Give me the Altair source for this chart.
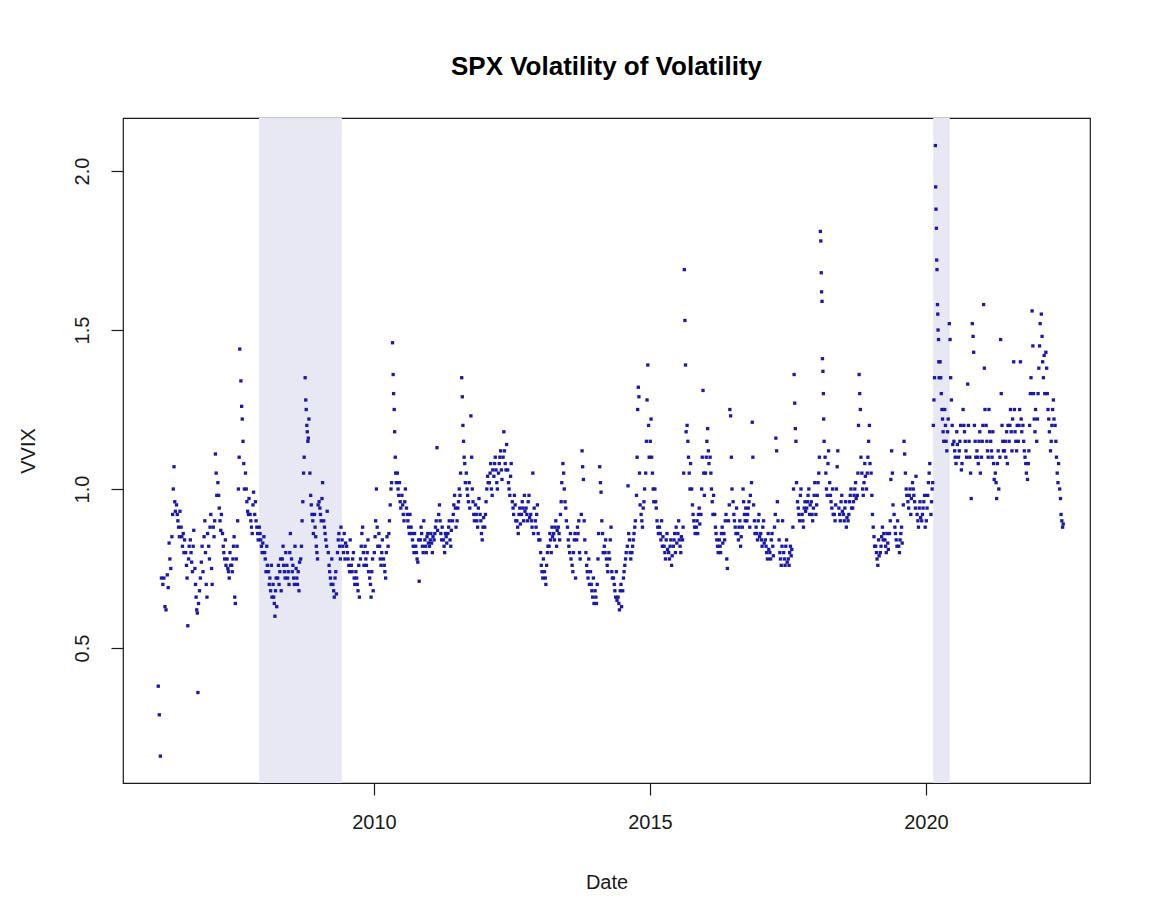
import altair as alt
import pandas as pd

# VVIX (scaled /100), readings per month; first listed month of each year given in SERIES
vvix_2006 = [
    [0.38, 0.29, 0.16, 0.72], [0.70, 0.72, 0.63, 0.62], [0.73, 0.69, 0.83, 0.78, 0.75],
    [0.85, 0.92, 1.00, 1.07, 0.96, 0.93], [0.95, 0.92, 0.90, 0.88, 0.85, 0.93],
    [0.88, 0.85, 0.82, 0.86, 0.80, 0.84], [0.80, 0.76, 0.72, 0.57, 0.78, 0.82],
    [0.84, 0.80, 0.77, 0.74, 0.82, 0.87], [0.75, 0.70, 0.66, 0.62, 0.61, 0.36, 0.64],
    [0.68, 0.72, 0.77, 0.82, 0.74], [0.85, 0.90, 0.80, 0.70, 0.66, 0.86],
]
vvix_2007 = [
    [0.82, 0.78, 0.88, 0.92, 0.75, 0.70], [0.88, 0.85, 0.90, 1.11, 1.05, 0.98],
    [1.02, 0.98, 0.94, 0.90, 0.87, 0.92], [0.86, 0.82, 0.80, 0.78, 0.84, 0.76],
    [0.78, 0.75, 0.74, 0.72, 0.80, 0.76], [0.76, 0.74, 0.78, 0.82, 0.85, 0.66, 0.64],
    [0.78, 0.82, 0.90, 1.00, 1.10, 1.44], [1.34, 1.26, 1.22, 1.15, 1.08, 1.00],
    [1.05, 1.00, 0.96, 0.93, 0.92, 0.97], [0.92, 0.90, 0.88, 0.86, 0.95, 0.99],
    [0.92, 0.96, 0.90, 0.88, 0.86, 0.84], [0.88, 0.86, 0.84, 0.82, 0.80, 0.83],
]
vvix_2008 = [
    [0.85, 0.80, 0.78, 0.74, 0.82, 0.76], [0.74, 0.70, 0.72, 0.68, 0.76, 0.66],
    [0.70, 0.66, 0.64, 0.60, 0.68, 0.72, 0.63], [0.72, 0.76, 0.70, 0.74, 0.78, 0.68],
    [0.78, 0.82, 0.76, 0.74, 0.72, 0.80], [0.76, 0.72, 0.74, 0.70, 0.80, 0.86],
    [0.78, 0.74, 0.76, 0.72, 0.70, 0.82], [0.75, 0.72, 0.70, 0.74, 0.68, 0.77],
    [0.78, 0.82, 0.90, 0.96, 1.05, 1.10], [1.35, 1.28, 1.25, 1.20, 1.18, 1.15, 1.16, 1.22],
    [1.05, 0.98, 0.95, 0.92, 0.90, 0.86], [0.92, 0.88, 0.85, 0.82, 0.80, 0.78, 0.95],
]
vvix_2009 = [
    [0.96, 0.94, 0.92, 0.90, 0.97, 1.02], [0.90, 0.88, 0.86, 0.84, 0.82, 0.93],
    [0.80, 0.76, 0.74, 0.72, 0.70, 0.78], [0.70, 0.68, 0.66, 0.72, 0.74, 0.67],
    [0.80, 0.84, 0.86, 0.82, 0.78, 0.88], [0.84, 0.82, 0.80, 0.86, 0.78, 0.83],
    [0.82, 0.80, 0.78, 0.76, 0.74, 0.84], [0.76, 0.74, 0.78, 0.80, 0.72, 0.70],
    [0.74, 0.72, 0.70, 0.68, 0.76, 0.66], [0.78, 0.82, 0.86, 0.88, 0.80, 0.76],
    [0.82, 0.78, 0.76, 0.80, 0.84, 0.74], [0.72, 0.70, 0.66, 0.74, 0.78, 0.68],
]
vvix_2010 = [
    [0.80, 0.85, 0.90, 1.00, 0.88, 0.82], [0.86, 0.82, 0.78, 0.76, 0.80, 0.84],
    [0.78, 0.76, 0.74, 0.72, 0.80, 0.85], [0.82, 0.86, 0.90, 0.95, 1.00, 1.02],
    [1.46, 1.36, 1.30, 1.25, 1.18, 1.10, 1.05, 1.02], [1.05, 1.00, 0.98, 1.02, 0.96, 0.94],
    [0.98, 0.95, 0.92, 0.90, 0.96, 1.00], [0.94, 0.92, 0.90, 0.88, 0.86, 0.92],
    [0.88, 0.86, 0.84, 0.82, 0.80, 0.86], [0.82, 0.80, 0.78, 0.77, 0.84, 0.71],
    [0.84, 0.88, 0.86, 0.82, 0.80, 0.90], [0.84, 0.82, 0.80, 0.85, 0.86, 0.83],
]
vvix_2011 = [
    [0.82, 0.84, 0.86, 0.83, 0.80, 0.85], [0.84, 0.86, 0.88, 0.90, 1.13, 0.87],
    [0.92, 0.95, 0.90, 0.86, 0.84, 0.88], [0.84, 0.82, 0.80, 0.86, 0.85, 0.83],
    [0.86, 0.88, 0.90, 0.84, 0.82, 0.87], [0.90, 0.92, 0.95, 0.98, 0.94, 0.88],
    [0.90, 0.94, 0.96, 1.00, 0.98, 1.05], [1.35, 1.29, 1.20, 1.15, 1.10, 1.08, 1.02],
    [1.05, 1.00, 0.98, 0.96, 1.02, 0.94], [1.23, 1.10, 1.00, 0.96, 0.92, 0.90],
    [0.95, 0.92, 0.90, 0.88, 0.94, 0.97], [0.92, 0.90, 0.86, 0.84, 0.88, 0.91],
]
vvix_2012 = [
    [0.88, 0.92, 0.96, 1.00, 1.04, 1.02], [1.02, 1.05, 1.08, 1.00, 0.98, 1.06],
    [1.04, 1.08, 1.10, 1.06, 1.02, 1.00], [1.05, 1.08, 1.10, 1.12, 1.06, 1.03],
    [1.10, 1.18, 1.12, 1.08, 1.06, 1.14], [1.06, 1.02, 1.00, 0.98, 1.04, 1.08],
    [0.96, 0.94, 0.92, 0.98, 0.95, 0.90], [0.90, 0.88, 0.86, 0.92, 0.94, 0.89],
    [0.92, 0.96, 0.94, 0.90, 0.98, 0.93], [0.94, 0.92, 0.90, 0.96, 0.98, 0.91],
    [0.92, 0.90, 0.88, 1.05, 0.86, 0.94], [0.90, 0.88, 0.92, 0.95, 0.86, 0.84],
]
vvix_2013 = [
    [0.84, 0.80, 0.76, 0.74, 0.72, 0.78], [0.74, 0.72, 0.70, 0.76, 0.80, 0.82],
    [0.82, 0.86, 0.84, 0.80, 0.88, 0.85], [0.86, 0.84, 0.88, 0.90, 0.82, 0.87],
    [0.88, 0.86, 0.84, 0.92, 0.96, 1.02], [1.08, 1.05, 1.00, 0.96, 0.94, 0.90],
    [0.88, 0.84, 0.82, 0.80, 0.86, 0.78], [0.76, 0.74, 0.80, 0.84, 0.86, 0.72],
    [0.84, 0.88, 0.86, 0.90, 0.80, 0.78], [0.92, 1.12, 1.07, 1.03, 0.90, 0.84],
    [0.80, 0.76, 0.74, 0.72, 0.78, 0.70], [0.74, 0.70, 0.68, 0.66, 0.72, 0.64],
]
vvix_2014 = [
    [0.68, 0.66, 0.64, 0.70, 0.78, 0.86], [1.07, 1.02, 0.99, 0.90, 0.86, 0.80],
    [0.82, 0.80, 0.84, 0.78, 0.76, 0.74], [0.80, 0.78, 0.84, 0.88, 0.74, 0.72],
    [0.72, 0.70, 0.68, 0.66, 0.74, 0.65], [0.66, 0.64, 0.62, 0.68, 0.70, 0.63],
    [0.68, 0.72, 0.74, 0.76, 0.78, 0.80], [0.82, 1.01, 0.86, 0.84, 0.80, 0.78],
    [0.80, 0.82, 0.84, 0.86, 0.88, 0.90], [0.98, 1.10, 1.25, 1.32, 1.29, 1.05, 0.95],
    [0.92, 0.90, 0.88, 0.94, 0.96, 1.00], [1.05, 1.15, 1.28, 1.39, 1.20, 1.10],
]
vvix_2015 = [
    [1.15, 1.22, 1.10, 1.05, 1.00, 0.96], [1.00, 0.96, 0.94, 0.90, 0.88, 0.86],
    [0.88, 0.86, 0.84, 0.90, 0.82, 0.85], [0.82, 0.80, 0.78, 0.84, 0.86, 0.81],
    [0.80, 0.78, 0.82, 0.84, 0.76, 0.79], [0.82, 0.84, 0.86, 0.80, 0.88, 0.83],
    [0.86, 0.90, 0.84, 0.82, 0.80, 0.85], [0.84, 0.88, 1.05, 1.69, 1.53, 1.39, 1.18],
    [1.20, 1.15, 1.10, 1.05, 1.00, 1.08], [1.00, 0.95, 0.92, 0.90, 0.88, 0.86],
    [0.88, 0.90, 0.86, 0.92, 0.94, 0.89], [0.92, 1.00, 1.10, 1.31, 1.05, 0.98],
]
vvix_2016 = [
    [1.05, 1.10, 1.15, 1.19, 1.12, 1.08], [1.10, 1.05, 1.00, 0.96, 0.92, 0.98],
    [0.92, 0.88, 0.86, 0.84, 0.82, 0.80], [0.84, 0.82, 0.80, 0.86, 0.88, 0.83],
    [0.86, 0.84, 0.90, 0.92, 0.78, 0.75], [0.90, 0.95, 1.25, 1.23, 1.10, 1.00],
    [0.96, 0.92, 0.90, 0.88, 0.86, 0.94], [0.86, 0.84, 0.88, 0.90, 0.82, 0.85],
    [0.88, 1.00, 0.96, 0.92, 0.90, 0.94], [0.90, 0.92, 0.94, 0.96, 0.88, 0.98],
    [1.02, 1.21, 1.10, 0.95, 0.90, 0.86], [0.88, 0.86, 0.84, 0.90, 0.92, 0.85],
]
vvix_2017 = [
    [0.86, 0.84, 0.82, 0.88, 0.90, 0.83], [0.84, 0.82, 0.80, 0.78, 0.86, 0.81],
    [0.80, 0.78, 0.84, 0.86, 0.82, 0.79], [0.88, 0.92, 1.16, 1.12, 0.96, 0.90],
    [0.84, 0.80, 0.78, 0.76, 0.82, 0.90], [0.80, 0.78, 0.76, 0.82, 0.84, 0.77],
    [0.78, 0.76, 0.80, 0.82, 0.79, 0.81], [0.88, 1.00, 1.36, 1.27, 1.19, 1.15, 1.02],
    [0.96, 0.94, 0.92, 0.90, 0.98, 1.00], [0.92, 0.90, 0.88, 0.94, 0.96, 0.93],
    [0.94, 0.96, 0.98, 1.00, 0.92, 0.95], [0.96, 0.92, 0.90, 0.94, 0.98, 1.02],
]
vvix_2018 = [
    [0.92, 0.95, 0.98, 1.02, 1.05, 1.10],
    [1.81, 1.78, 1.68, 1.62, 1.59, 1.41, 1.37, 1.30, 1.22, 1.15],
    [1.10, 1.05, 1.00, 0.98, 1.08, 1.12], [1.02, 0.98, 0.96, 0.94, 1.00, 0.92],
    [0.92, 0.90, 0.95, 1.00, 1.07, 1.12], [0.94, 0.92, 0.90, 0.96, 0.98, 0.93],
    [0.92, 0.90, 0.94, 0.96, 0.88, 0.91], [0.90, 0.92, 0.96, 0.98, 1.00, 0.94],
    [0.94, 0.96, 0.98, 1.00, 1.02, 0.97], [0.98, 1.05, 1.20, 1.36, 1.30, 1.25, 1.10],
    [1.05, 1.00, 0.98, 1.02, 1.08, 1.04], [1.00, 1.05, 1.10, 1.15, 1.20, 1.08],
]
vvix_2019 = [
    [1.05, 0.98, 0.92, 0.88, 0.85, 0.82], [0.82, 0.80, 0.78, 0.76, 0.84, 0.79],
    [0.80, 0.82, 0.85, 0.88, 0.84, 0.86], [0.84, 0.82, 0.80, 0.86, 0.83, 0.81],
    [0.86, 0.90, 1.03, 1.12, 1.05, 0.95], [0.92, 0.88, 0.86, 0.84, 0.82, 0.90],
    [0.82, 0.80, 0.84, 0.86, 0.88, 0.83], [0.95, 1.15, 1.11, 1.05, 1.00, 0.98],
    [0.96, 0.94, 0.98, 1.00, 0.92, 0.97], [1.02, 1.00, 0.98, 0.96, 0.94, 1.04],
    [0.92, 0.90, 0.88, 0.94, 0.96, 0.91], [0.90, 0.92, 0.94, 0.96, 0.98, 0.88],
]
vvix_2020 = [
    [0.90, 0.94, 0.98, 1.02, 1.05, 1.08], [0.92, 0.96, 1.00, 1.02, 1.20, 1.28, 1.35],
    [2.08, 1.95, 1.88, 1.82, 1.72, 1.69, 1.58, 1.55, 1.50, 1.47, 1.40, 1.35],
    [1.40, 1.35, 1.30, 1.25, 1.22, 1.18, 1.15], [1.25, 1.20, 1.15, 1.12, 1.18, 1.22],
    [1.52, 1.47, 1.35, 1.28, 1.20, 1.14], [1.15, 1.12, 1.10, 1.08, 1.18, 1.14],
    [1.10, 1.12, 1.15, 1.20, 1.06, 1.08], [1.25, 1.20, 1.18, 1.15, 1.12, 1.10],
    [1.33, 1.20, 1.15, 1.10, 1.05, 0.97], [1.52, 1.48, 1.43, 1.20, 1.15, 1.10],
    [1.12, 1.10, 1.08, 1.15, 1.18, 1.05],
]
vvix_2021 = [
    [1.10, 1.15, 1.20, 1.58, 1.38, 1.25], [1.20, 1.15, 1.12, 1.10, 1.25, 1.18],
    [1.15, 1.12, 1.10, 1.18, 1.08, 1.03], [1.05, 1.02, 0.97, 1.08, 1.12, 1.00],
    [1.10, 1.47, 1.30, 1.20, 1.15, 1.12], [1.12, 1.15, 1.10, 1.18, 1.08, 1.20],
    [1.15, 1.20, 1.25, 1.18, 1.12, 1.22], [1.40, 1.25, 1.18, 1.15, 1.12, 1.20],
    [1.15, 1.20, 1.25, 1.40, 1.22, 1.18], [1.20, 1.15, 1.12, 1.10, 1.08, 1.05],
    [1.03, 1.08, 1.12, 1.20, 1.30, 1.35], [1.56, 1.45, 1.30, 1.22, 1.18, 1.25],
]
vvix_2022 = [
    [1.15, 1.22, 1.30, 1.38, 1.45, 1.52], [1.55, 1.48, 1.40, 1.35, 1.42, 1.30],
    [1.43, 1.38, 1.30, 1.25, 1.22, 1.18], [1.12, 1.15, 1.20, 1.25, 1.28, 1.22],
    [1.20, 1.15, 1.10, 1.05, 1.02, 1.08], [1.00, 0.97, 0.92, 0.90, 0.88, 0.89],
]

SERIES = [
    (2006, 2, vvix_2006), (2007, 1, vvix_2007), (2008, 1, vvix_2008), (2009, 1, vvix_2009),
    (2010, 1, vvix_2010), (2011, 1, vvix_2011), (2012, 1, vvix_2012), (2013, 1, vvix_2013),
    (2014, 1, vvix_2014), (2015, 1, vvix_2015), (2016, 1, vvix_2016), (2017, 1, vvix_2017),
    (2018, 1, vvix_2018), (2019, 1, vvix_2019), (2020, 1, vvix_2020), (2021, 1, vvix_2021),
    (2022, 1, vvix_2022),
]

# NBER recession periods (decimal years)
rec_start = [2007.917, 2020.13]
rec_end = [2009.417, 2020.43]

rows = []
for year, m0, months in SERIES:
    for i, vals in enumerate(months):
        month = m0 + i
        n = len(vals)
        for k, v in enumerate(vals):
            day = 1 + int((k + 0.5) * 28 / n)
            rows.append({"date": year + (month - 1) / 12 + (day - 1) / 365, "vvix": v})
df = pd.DataFrame(rows)
rec = pd.DataFrame({"start": rec_start, "end": rec_end})

W, H = 967, 665
FONT = "Liberation Sans"

xscale = alt.Scale(domain=[2005.453, 2022.971], nice=False, zero=False)
yscale = alt.Scale(domain=[0.0755, 2.1667], nice=False, zero=False)

shade = alt.Chart(rec).mark_rect(color="#e8e8f5").encode(
    x=alt.X("start:Q", scale=xscale),
    x2="end:Q",
    y=alt.value(0),
    y2=alt.value(H),
)

pts = alt.Chart(df).mark_square(size=11, color="#1a1aaa", opacity=1).encode(
    x=alt.X("date:Q", scale=xscale, title="Date",
            axis=alt.Axis(values=[2010, 2015, 2020], format="d", tickSize=12,
                          labelPadding=17, titleY=99, titleBaseline="middle",
                          titleX=W / 2, titleAlign="center", grid=False, domain=False)),
    y=alt.Y("vvix:Q", scale=yscale, title="VVIX",
            axis=alt.Axis(values=[0.5, 1.0, 1.5, 2.0], format=".1f", tickSize=12,
                          labelAngle=270, labelAlign="center", labelBaseline="alphabetic",
                          labelPadding=23, titleAngle=270, titleX=-95, titleY=H / 2,
                          titleAlign="center", titleBaseline="middle",
                          grid=False, domain=False)),
)

chart = (shade + pts).properties(
    width=W, height=H,
    title=alt.TitleParams("SPX Volatility of Volatility", fontSize=26, fontWeight="bold",
                          font=FONT, anchor="middle", baseline="alphabetic", offset=17,
                          color="#000000"),
    autosize=alt.AutoSizeParams(type="none"),
    padding={"left": 115, "top": 110, "right": 58, "bottom": 129},
    background="white",
).configure_view(
    stroke="#1a1a1a", strokeWidth=1.2
).configure_axis(
    grid=False, domain=False, tickColor="#1a1a1a", tickWidth=1.2,
    labelFont=FONT, labelFontSize=20, labelColor="#1a1a1a",
    titleFont=FONT, titleFontSize=20, titleFontWeight="normal", titleColor="#1a1a1a",
)

chart.save("out.html", embed_options={"renderer": "svg", "actions": False})
